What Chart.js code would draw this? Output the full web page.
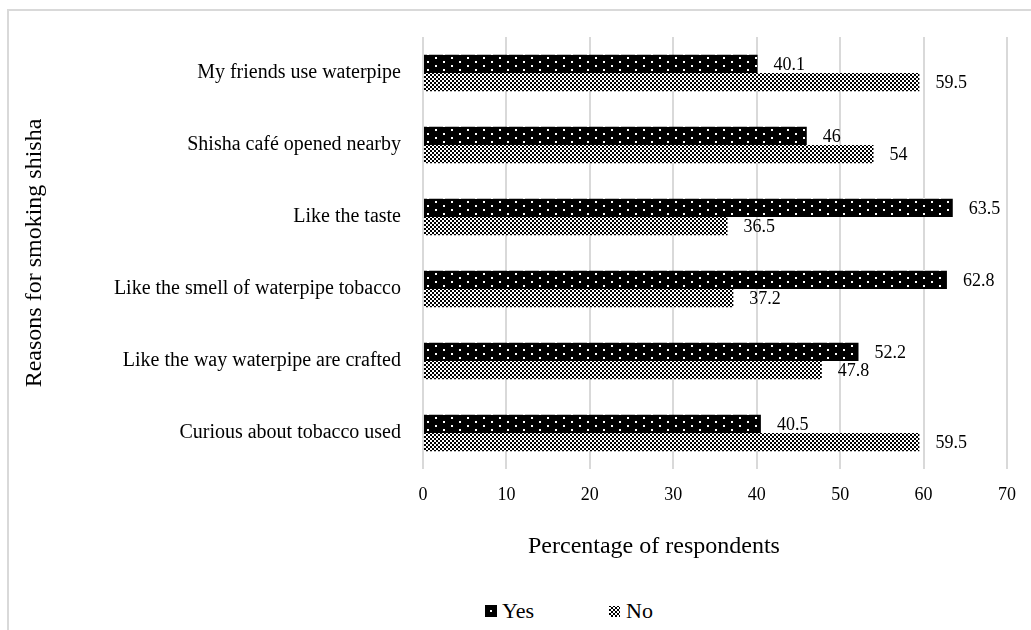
<!DOCTYPE html>
<html lang="en">
<head>
    <meta charset="UTF-8">
    <title>Reasons for smoking shisha</title>
    <script src="https://cdn.jsdelivr.net/npm/chart.js@4.4.1/dist/chart.umd.min.js"></script>
    <style>
        body { margin: 0; background: #fff; }
        #wrap {
            position: relative;
            width: 1031px;
            height: 630px;
            overflow: hidden;
            font-family: 'Liberation Serif', 'Times New Roman', serif;
        }
        #frame {
            position: absolute;
            left: 7px;
            top: 9px;
            width: 1100px;
            height: 700px;
            border-left: 2px solid #d9d9d9;
            border-top: 2px solid #d9d9d9;
        }
        #chartBox {
            position: absolute;
            left: 0;
            top: 0;
            width: 1031px;
            height: 596px;
        }
        #legend {
            position: absolute;
            left: 485px;
            top: 598px;
            display: flex;
            align-items: center;
            font-size: 22px;
            color: #000;
        }
        #legend canvas { margin-right: 5px; }
        #legend .item { display: flex; align-items: center; }
    </style>
</head>
<body>
<div id="wrap">
    <div id="frame"></div>
    <div id="chartBox"><canvas id="myChart"></canvas></div>
    <div id="legend"></div>
</div>

<script>
    const categories = [
        'My friends use waterpipe',
        'Shisha café opened nearby',
        'Like the taste',
        'Like the smell of waterpipe tobacco',
        'Like the way waterpipe are crafted',
        'Curious about tobacco used'
    ];
    const yesValues = [40.1, 46, 63.5, 62.8, 52.2, 40.5];
    const noValues = [59.5, 54, 36.5, 37.2, 47.8, 59.5];
    const xTicks = [0, 10, 20, 30, 40, 50, 60, 70];
    const seriesNames = ['Yes', 'No'];
    const xTitle = 'Percentage of respondents';
    const yTitle = 'Reasons for smoking shisha';

    const FONT = "'Liberation Serif', 'Times New Roman', serif";

    // black with white dots
    function dotTile() {
        let c = document.createElement('canvas');
        c.width = 16; c.height = 8;
        let ctx = c.getContext('2d');
        ctx.fillStyle = '#000';
        ctx.fillRect(0, 0, 16, 8);
        ctx.fillStyle = '#fff';
        ctx.fillRect(3, 1, 2, 2);
        ctx.fillRect(11, 5, 2, 2);
        return c;
    }

    // fine checkerboard
    function checkerTile() {
        let c = document.createElement('canvas');
        c.width = 4; c.height = 4;
        let ctx = c.getContext('2d');
        ctx.fillStyle = '#fff';
        ctx.fillRect(0, 0, 4, 4);
        ctx.fillStyle = '#000';
        ctx.fillRect(0, 0, 2, 2);
        ctx.fillRect(2, 2, 2, 2);
        return c;
    }

    const canvas = document.getElementById('myChart');
    const mainCtx = canvas.getContext('2d');
    const yesFill = mainCtx.createPattern(dotTile(), 'repeat');
    const noFill = mainCtx.createPattern(checkerTile(), 'repeat');

    // value labels at the bar ends + x axis title (sits left of the plot centre, like the original)
    const extraText = {
        id: 'extraText',
        afterDatasetsDraw(chart) {
            let ctx = chart.ctx;
            ctx.save();
            ctx.font = '18px ' + FONT;
            ctx.fillStyle = '#000';
            ctx.textAlign = 'left';
            ctx.textBaseline = 'middle';
            chart.data.datasets.forEach((ds, i) => {
                chart.getDatasetMeta(i).data.forEach((bar, j) => {
                    ctx.fillText(String(ds.data[j]), bar.x + 16, bar.y + 1);
                });
            });

            let xs = chart.scales.x;
            ctx.font = '24px ' + FONT;
            ctx.fillText(xTitle, xs.left + 105, xs.bottom - 49);
            ctx.restore();
        }
    };

    new Chart(canvas, {
        type: 'bar',
        data: {
            labels: categories,
            datasets: [{
                label: seriesNames[0],
                data: yesValues,
                backgroundColor: yesFill,
                categoryPercentage: 0.51,
                barPercentage: 1
            }, {
                label: seriesNames[1],
                data: noValues,
                backgroundColor: noFill,
                categoryPercentage: 0.51,
                barPercentage: 1
            }]
        },
        options: {
            indexAxis: 'y',
            responsive: true,
            maintainAspectRatio: false,
            animation: false,
            layout: { padding: { top: 37, right: 20, left: 10, bottom: 0 } },
            plugins: {
                legend: { display: false },
                tooltip: { enabled: false }
            },
            scales: {
                x: {
                    min: xTicks[0],
                    max: xTicks[xTicks.length - 1],
                    afterFit: scale => { scale.height = 127; },
                    ticks: {
                        stepSize: xTicks[1] - xTicks[0],
                        padding: 15,
                        color: '#000',
                        font: { family: FONT, size: 18 }
                    },
                    grid: { color: '#d9d9d9', lineWidth: 2, drawTicks: false },
                    border: { display: false }
                },
                y: {
                    afterFit: scale => { scale.width = 413; },
                    ticks: {
                        padding: 14,
                        color: '#000',
                        font: { family: FONT, size: 20 }
                    },
                    grid: { display: false },
                    border: { display: false },
                    title: {
                        display: true,
                        text: yTitle,
                        color: '#000',
                        font: { family: FONT, size: 24 },
                        padding: { top: 10, bottom: 0 }
                    }
                }
            }
        },
        plugins: [extraText]
    });

    // legend below the chart
    function drawLegend() {
        let wrapper = document.getElementById('legend');
        [dotTile, checkerTile].forEach((tileFn, i) => {
            let item = document.createElement('div');
            item.className = 'item';
            if (i > 0) item.style.marginLeft = '75px';
            let sw = document.createElement('canvas');
            sw.width = 12; sw.height = 12;
            let sctx = sw.getContext('2d');
            if (i === 0) {
                sctx.fillStyle = '#000';
                sctx.fillRect(0, 0, 12, 12);
                sctx.fillStyle = '#fff';
                sctx.fillRect(5, 5, 2, 2);
            } else {
                sctx.fillStyle = sctx.createPattern(tileFn(), 'repeat');
                sctx.fillRect(0, 1, 11, 11);
            }
            item.appendChild(sw);
            let txt = document.createElement('span');
            txt.textContent = seriesNames[i];
            item.appendChild(txt);
            wrapper.appendChild(item);
        });
    }

    drawLegend();
</script>
</body>
</html>
